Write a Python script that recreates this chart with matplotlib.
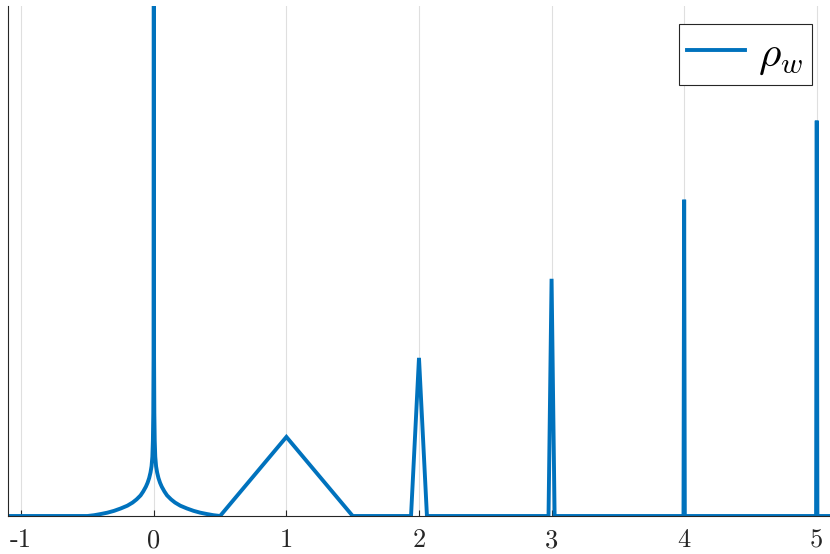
import matplotlib
matplotlib.use("Agg")
import matplotlib.pyplot as plt

plt.rcParams['mathtext.fontset'] = 'cm'

# values
x_rho = [-1.1, -0.5, -0.45, -0.4, -0.35, -0.3, -0.25, -0.2, -0.16, -0.13, -0.1,
         -0.08, -0.06, -0.047, -0.035, -0.025, -0.017, -0.011, -0.007, -0.004,
         -0.002, 0.0, 0.002, 0.004, 0.007, 0.011, 0.017, 0.025, 0.035, 0.047,
         0.06, 0.08, 0.1, 0.13, 0.16, 0.2, 0.25, 0.3, 0.35, 0.4, 0.45, 0.5,
         1.0, 1.5,
         1.94, 2.0, 2.06, 2.977, 3.0, 3.023, 3.995, 4.0, 4.005,
         4.995, 5.0, 5.005, 5.1]
y_rho = [0.0, 0.0, 0.01, 0.025, 0.042, 0.065, 0.095, 0.13, 0.17, 0.21, 0.26,
         0.31, 0.37, 0.42, 0.48, 0.55, 0.63, 0.75, 0.95, 1.3,
         2.0, 12.0, 2.0, 1.3, 0.95, 0.75, 0.63, 0.55, 0.48, 0.42,
         0.37, 0.31, 0.26, 0.21, 0.17, 0.13, 0.095, 0.065, 0.042, 0.025, 0.01, 0.0,
         1.0, 0.0,
         0.0, 2.0, 0.0, 0.0, 3.0, 0.0, 0.0, 4.0, 0.0,
         0.0, 5.0, 0.0, 0.0]
xtick_vals = [-1, 0, 1, 2, 3, 4, 5]
xtick_labels = ['-1', '0', '1', '2', '3', '4', '5']

fig = plt.figure(figsize=(8.3, 5.54), dpi=100)
ax = fig.add_axes([0.0096, 0.0686, 0.9904, 0.9206])

ax.plot(x_rho, y_rho, color='#0072BD', lw=2.8, label=r'$\rho_w$',
        solid_joinstyle='miter')

ax.set_xlim(-1.1, 5.1)
ax.set_ylim(0, 6.45)
ax.set_xticks(xtick_vals)
ax.set_xticklabels(xtick_labels, fontsize=19, family=['cmr10', 'DejaVu Serif'])
ax.set_yticks([])
ax.tick_params(axis='x', direction='in', length=4.5, width=0.8,
               color='#262626', pad=9, labelcolor='#262626')
ax.grid(axis='x', color='#DFDFDF', lw=0.8)
ax.set_axisbelow(True)

for side in ['top', 'right']:
    ax.spines[side].set_visible(False)
for side in ['left', 'bottom']:
    ax.spines[side].set_color('#262626')
    ax.spines[side].set_linewidth(0.8)

leg = ax.legend(loc='upper right', bbox_to_anchor=(0.978, 0.965),
                fontsize=31, fancybox=False, framealpha=1,
                edgecolor='#262626', handlelength=1.35, handletextpad=0.3,
                borderpad=0.2, borderaxespad=0)
leg.get_frame().set_linewidth(0.8)

fig.savefig('out.png', dpi=100)
